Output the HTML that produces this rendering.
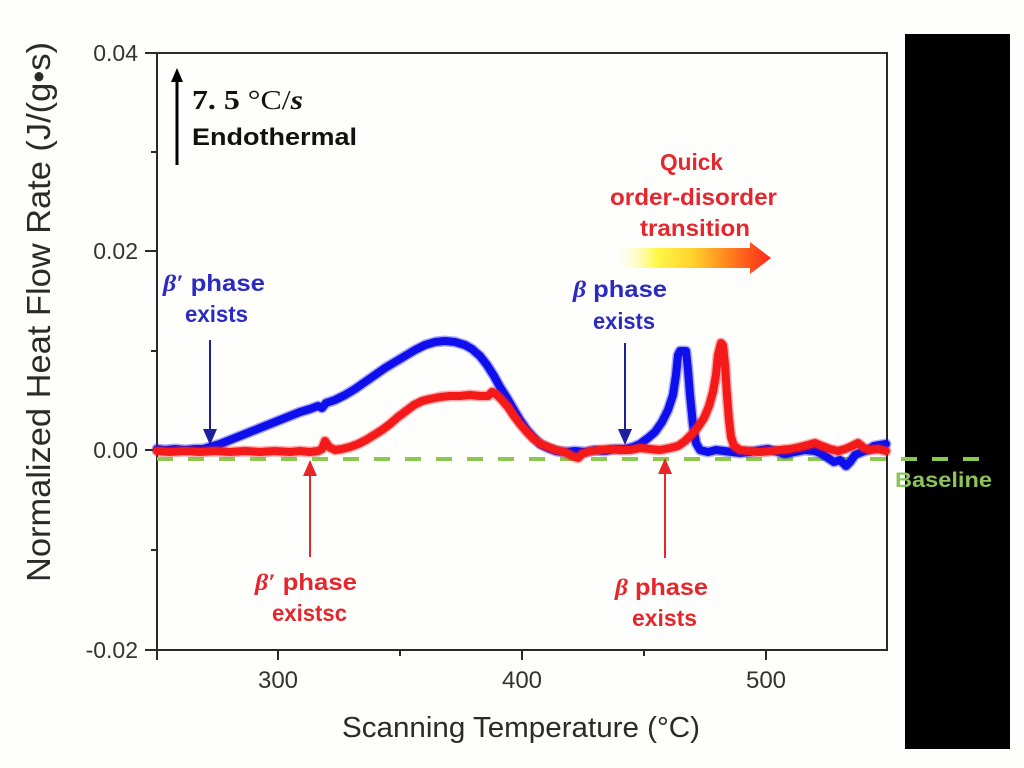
<!DOCTYPE html>
<html>
<head>
<meta charset="utf-8">
<style>
html,body{margin:0;padding:0;background:#fefefd;}
svg{display:block;}
</style>
</head>
<body>
<svg width="1024" height="768" viewBox="0 0 1024 768" xmlns="http://www.w3.org/2000/svg">
<defs>
<linearGradient id="grad" x1="618" y1="0" x2="770" y2="0" gradientUnits="userSpaceOnUse">
<stop offset="0" stop-color="#fffbe8" stop-opacity="0.2"/>
<stop offset="0.25" stop-color="#fff84a"/>
<stop offset="0.5" stop-color="#ffd02a"/>
<stop offset="0.75" stop-color="#ff7a1e"/>
<stop offset="1" stop-color="#ff2a1a"/>
</linearGradient>
</defs>
<rect x="0" y="0" width="1024" height="768" fill="#fefefd"/>

<!-- black bar -->
<rect x="905" y="34" width="105" height="715" fill="#000"/>

<!-- plot frame -->
<rect x="157" y="53" width="730" height="597" fill="none" stroke="#2a2a2a" stroke-width="2"/>

<!-- y ticks -->
<g stroke="#2a2a2a" stroke-width="2">
<line x1="145" y1="53" x2="157" y2="53"/>
<line x1="151" y1="152" x2="157" y2="152"/>
<line x1="145" y1="251" x2="157" y2="251"/>
<line x1="151" y1="351" x2="157" y2="351"/>
<line x1="145" y1="450" x2="157" y2="450"/>
<line x1="151" y1="550" x2="157" y2="550"/>
<line x1="145" y1="650" x2="157" y2="650"/>
<!-- x ticks -->
<line x1="157" y1="650" x2="157" y2="660"/>
<line x1="278" y1="650" x2="278" y2="660"/>
<line x1="400" y1="650" x2="400" y2="656"/>
<line x1="522" y1="650" x2="522" y2="660"/>
<line x1="644" y1="650" x2="644" y2="656"/>
<line x1="766" y1="650" x2="766" y2="660"/>
</g>

<!-- tick labels -->
<g font-family="Liberation Sans, Arial, sans-serif" font-size="23" fill="#333" text-anchor="end">
<text x="138" y="61">0.04</text>
<text x="138" y="259">0.02</text>
<text x="138" y="458">0.00</text>
<text x="138" y="658">-0.02</text>
</g>
<g font-family="Liberation Sans, Arial, sans-serif" font-size="24" fill="#333" text-anchor="middle">
<text x="278" y="688">300</text>
<text x="522" y="688">400</text>
<text x="766" y="688">500</text>
</g>

<!-- axis labels -->
<text x="342" y="737" font-family="Liberation Sans, Arial, sans-serif" font-size="29" fill="#2a2a2a" textLength="358" lengthAdjust="spacingAndGlyphs">Scanning Temperature (°C)</text>
<text transform="translate(50,582) rotate(-90)" x="0" y="0" font-family="Liberation Sans, Arial, sans-serif" font-size="33" fill="#2a2a2a" textLength="540" lengthAdjust="spacingAndGlyphs">Normalized Heat Flow Rate (J/(g•s)</text>

<!-- baseline dashed -->
<line x1="157" y1="459" x2="990" y2="459" stroke="#8cc84f" stroke-width="4" stroke-dasharray="16 15"/>

<!-- blue curve -->
<g fill="none" stroke="#0f0fee" stroke-linejoin="round" stroke-linecap="round">
<polyline stroke-width="11" stroke-opacity="0.35"
points="157,449 165,450 175,449 185,450 195,449 203,449 210,447 220,444 230,440 240,436 250,432 260,428 270,424 280,420 290,416 300,412 310,409 318,406 322,408 326,403 335,400 345,395 355,389 365,382 375,375 385,368 395,362 405,356 415,350 425,345 435,342 445,341 455,342 465,345 472,349 480,356 487,365 494,376 500,387 507,398 514,410 520,420 527,430 534,438 540,444 548,448 556,451 565,452 575,451 585,452 595,450 605,451 615,449 625,449 633,447 640,444 648,438 655,432 662,422 668,410 673,395 676,375 678,355 680,351 686,351 688,370 690,395 693,425 696,443 700,450 708,452 716,450 724,451 732,452 740,453 750,452 760,450 768,449 775,451 785,454 795,452 805,450 815,451 822,454 828,458 834,462 840,460 846,466 850,462 855,455 862,452 868,450 874,446 880,445 886,444"/>
<polyline stroke-width="8"
points="157,449 165,450 175,449 185,450 195,449 203,449 210,447 220,444 230,440 240,436 250,432 260,428 270,424 280,420 290,416 300,412 310,409 318,406 322,408 326,403 335,400 345,395 355,389 365,382 375,375 385,368 395,362 405,356 415,350 425,345 435,342 445,341 455,342 465,345 472,349 480,356 487,365 494,376 500,387 507,398 514,410 520,420 527,430 534,438 540,444 548,448 556,451 565,452 575,451 585,452 595,450 605,451 615,449 625,449 633,447 640,444 648,438 655,432 662,422 668,410 673,395 676,375 678,355 680,351 686,351 688,370 690,395 693,425 696,443 700,450 708,452 716,450 724,451 732,452 740,453 750,452 760,450 768,449 775,451 785,454 795,452 805,450 815,451 822,454 828,458 834,462 840,460 846,466 850,462 855,455 862,452 868,450 874,446 880,445 886,444"/>
</g>

<!-- red curve -->
<g fill="none" stroke="#f41a1a" stroke-linejoin="round" stroke-linecap="round">
<polyline stroke-width="11" stroke-opacity="0.35"
points="157,451 170,452 185,451 200,452 215,451 230,452 245,451 260,452 275,451 290,452 300,451 310,452 318,451 322,449 325,441 329,447 335,450 342,449 350,447 358,444 366,440 374,435 382,430 390,424 398,417 406,411 414,405 422,401 430,399 440,397 450,396 460,396 470,395 480,396 488,396 492,392 496,394 502,400 508,407 514,416 520,424 527,432 534,439 541,444 548,447 556,450 565,452 572,456 578,458 582,454 590,451 600,450 610,449 620,450 630,450 640,448 650,449 660,450 670,448 678,446 685,441 692,434 698,427 704,418 709,406 713,392 716,375 718,355 721,343 723,345 725,365 727,395 729,420 731,437 734,446 740,450 750,451 760,452 770,451 780,450 790,449 800,447 808,445 815,443 822,446 830,449 838,451 845,449 852,446 858,443 864,448 870,450 878,449 886,451"/>
<polyline stroke-width="8"
points="157,451 170,452 185,451 200,452 215,451 230,452 245,451 260,452 275,451 290,452 300,451 310,452 318,451 322,449 325,441 329,447 335,450 342,449 350,447 358,444 366,440 374,435 382,430 390,424 398,417 406,411 414,405 422,401 430,399 440,397 450,396 460,396 470,395 480,396 488,396 492,392 496,394 502,400 508,407 514,416 520,424 527,432 534,439 541,444 548,447 556,450 565,452 572,456 578,458 582,454 590,451 600,450 610,449 620,450 630,450 640,448 650,449 660,450 670,448 678,446 685,441 692,434 698,427 704,418 709,406 713,392 716,375 718,355 721,343 723,345 725,365 727,395 729,420 731,437 734,446 740,450 750,451 760,452 770,451 780,450 790,449 800,447 808,445 815,443 822,446 830,449 838,451 845,449 852,446 858,443 864,448 870,450 878,449 886,451"/>
</g>

<!-- Baseline label -->
<text x="895" y="487" font-family="Liberation Sans, Arial, sans-serif" font-weight="bold" font-size="21" fill="#8cc45a" textLength="97" lengthAdjust="spacingAndGlyphs">Baseline</text>

<!-- endothermal arrow -->
<line x1="177" y1="165" x2="177" y2="80" stroke="#000" stroke-width="3"/>
<polygon points="177,68 171,82 183,82" fill="#000"/>
<text x="192" y="109" font-family="Liberation Serif, serif" font-size="27" fill="#111" textLength="111" lengthAdjust="spacingAndGlyphs"><tspan font-weight="bold">7. 5 </tspan><tspan>°C/</tspan><tspan font-style="italic" font-weight="bold">s</tspan></text>
<text x="192" y="145" font-family="Liberation Sans, Arial, sans-serif" font-weight="bold" font-size="24" fill="#111" textLength="165" lengthAdjust="spacingAndGlyphs">Endothermal</text>

<!-- blue annotation 1 -->
<text x="163" y="291" font-family="Liberation Sans, Arial, sans-serif" font-weight="bold" font-size="23" fill="#2b2bc2" textLength="102" lengthAdjust="spacingAndGlyphs"><tspan font-family="Liberation Serif, serif" font-style="italic">β′</tspan> phase</text>
<text x="185" y="322" font-family="Liberation Sans, Arial, sans-serif" font-weight="bold" font-size="23" fill="#2b2bc2" textLength="63" lengthAdjust="spacingAndGlyphs">exists</text>
<line x1="210" y1="340" x2="210" y2="432" stroke="#1e1ea0" stroke-width="2"/>
<polygon points="210,445 203,429 217,429" fill="#1e1ea0"/>

<!-- blue annotation 2 -->
<text x="573" y="297" font-family="Liberation Sans, Arial, sans-serif" font-weight="bold" font-size="23" fill="#2b2bc2" textLength="94" lengthAdjust="spacingAndGlyphs"><tspan font-family="Liberation Serif, serif" font-style="italic">β</tspan> phase</text>
<text x="593" y="329" font-family="Liberation Sans, Arial, sans-serif" font-weight="bold" font-size="23" fill="#2b2bc2" textLength="62" lengthAdjust="spacingAndGlyphs">exists</text>
<line x1="625" y1="343" x2="625" y2="432" stroke="#1e1ea0" stroke-width="2"/>
<polygon points="625,445 618,429 632,429" fill="#1e1ea0"/>

<!-- red annotation 1 -->
<line x1="310" y1="472" x2="310" y2="557" stroke="#e8262a" stroke-width="2"/>
<polygon points="310,460 303,476 317,476" fill="#e8262a"/>
<text x="255" y="590" font-family="Liberation Sans, Arial, sans-serif" font-weight="bold" font-size="23" fill="#e5262c" textLength="102" lengthAdjust="spacingAndGlyphs"><tspan font-family="Liberation Serif, serif" font-style="italic">β′</tspan> phase</text>
<text x="272" y="621" font-family="Liberation Sans, Arial, sans-serif" font-weight="bold" font-size="23" fill="#e5262c" textLength="75" lengthAdjust="spacingAndGlyphs">existsc</text>

<!-- red annotation 2 -->
<line x1="665" y1="470" x2="665" y2="558" stroke="#e8262a" stroke-width="2"/>
<polygon points="665,458 658,474 672,474" fill="#e8262a"/>
<text x="615" y="595" font-family="Liberation Sans, Arial, sans-serif" font-weight="bold" font-size="23" fill="#e5262c" textLength="93" lengthAdjust="spacingAndGlyphs"><tspan font-family="Liberation Serif, serif" font-style="italic">β</tspan> phase</text>
<text x="632" y="626" font-family="Liberation Sans, Arial, sans-serif" font-weight="bold" font-size="23" fill="#e5262c" textLength="65" lengthAdjust="spacingAndGlyphs">exists</text>

<!-- quick order-disorder -->
<text x="660" y="170" font-family="Liberation Sans, Arial, sans-serif" font-weight="bold" font-size="23" fill="#e5262c" textLength="63" lengthAdjust="spacingAndGlyphs">Quick</text>
<text x="610" y="205" font-family="Liberation Sans, Arial, sans-serif" font-weight="bold" font-size="23" fill="#e5262c" textLength="167" lengthAdjust="spacingAndGlyphs">order-disorder</text>
<text x="640" y="236" font-family="Liberation Sans, Arial, sans-serif" font-weight="bold" font-size="23" fill="#e5262c" textLength="110" lengthAdjust="spacingAndGlyphs">transition</text>
<polygon points="618,248 750,248 750,242 771,258 750,274 750,268 618,268" fill="url(#grad)"/>
</svg>
</body>
</html>
